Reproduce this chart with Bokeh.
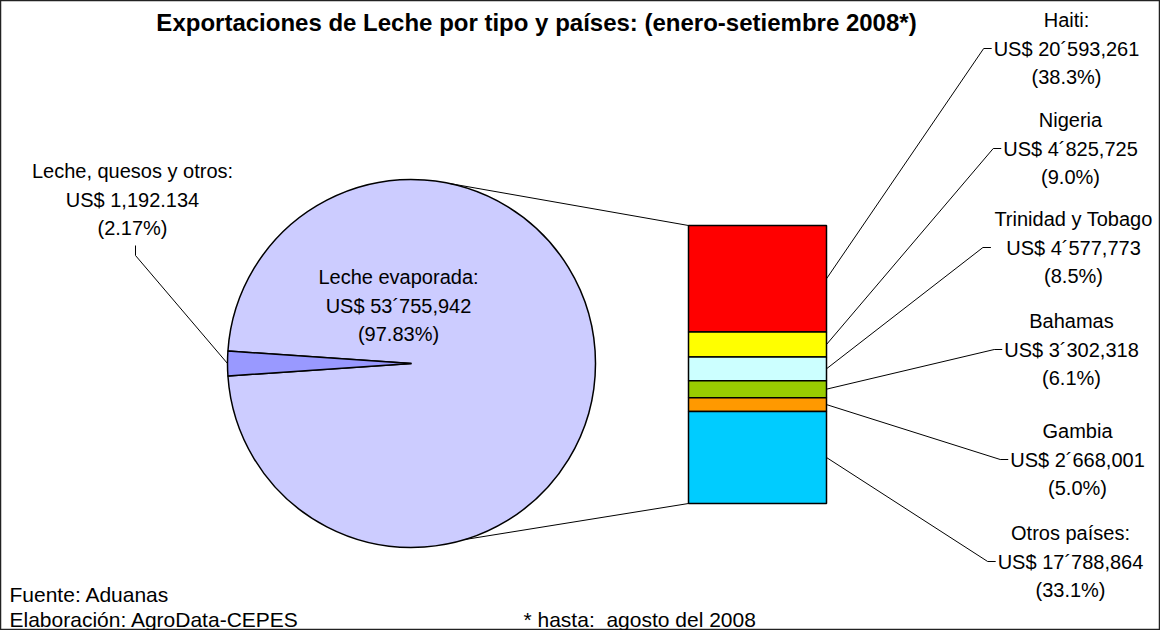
import math
from bokeh.plotting import figure
from bokeh.models import Range1d
from bokeh.core.properties import value
from bokeh.embed import file_html
from bokeh.resources import INLINE

# ---------------- data ----------------
pie_labels = ["Leche evaporada", "Leche, quesos y otros"]
pie_values = [53755942, 1192134]
pie_value_text = ["US$ 53\u00b4755,942", "US$ 1,192.134"]
pie_pct_text = ["(97.83%)", "(2.17%)"]

countries = ["Haiti:", "Nigeria", "Trinidad y Tobago", "Bahamas", "Gambia", "Otros pa\u00edses:"]
country_values = [20593261, 4825725, 4577773, 3302318, 2668001, 17788864]
country_value_text = ["US$ 20\u00b4593,261", "US$ 4\u00b4825,725", "US$ 4\u00b4577,773",
                      "US$ 3\u00b4302,318", "US$ 2\u00b4668,001", "US$ 17\u00b4788,864"]
country_pct_text = ["(38.3%)", "(9.0%)", "(8.5%)", "(6.1%)", "(5.0%)", "(33.1%)"]

title_text = "Exportaciones de Leche por tipo y pa\u00edses: (enero-setiembre 2008*)"
source_lines = ["Fuente: Aduanas", "Elaboraci\u00f3n: AgroData-CEPES"]
note_text = "* hasta:\u00a0 agosto del 2008"

# ---------------- layout / style ----------------
W, H = 1160, 630
FONT = "Liberation Sans"
FS = 20
LINE = 28.5
pie_colors = ["#CCCCFF", "#9999FF"]
bar_colors = ["#FF0000", "#FFFF00", "#CCFFFF", "#99CC00", "#FF9900", "#00CCFF"]

def X(px):
    return px - 8

def Y(py):
    return 638 - py

PCX, PCY, PR = X(419), Y(371), 184
BAR_L, BAR_R, BAR_T, BAR_B = X(696), X(834), Y(233), Y(511)
TOP_ATTACH_DEG, BOT_ATTACH_DEG = 78.0, -73.0
label_cx_px = [1074, 1078, 1081, 1079, 1085, 1078]
label_mid_py = [56, 156, 255, 357, 467, 569]

AW = {' ': 278, '$': 556, '%': 889, '(': 333, ')': 333, ',': 278, '.': 278, ':': 278,
      '\u00b4': 333, 'U': 722, 'S': 667, 'T': 611, 'H': 722, 'N': 722, 'B': 667,
      'G': 778, 'O': 778, 'a': 556, 'b': 556, 'd': 556, 'e': 556, 'g': 556, 'h': 556,
      'i': 222, 'm': 833, 'n': 556, 'o': 556, 'p': 556, 'r': 333, 's': 500, 't': 278,
      'y': 500, '\u00ed': 278}

def tw(s):
    return sum(AW.get(c, 556) for c in s) * FS / 1000.0

p = figure(width=W, height=H, x_range=Range1d(0, W), y_range=Range1d(0, H),
           x_axis_type=None, y_axis_type=None, toolbar_location=None,
           output_backend="svg", min_border=0)
p.grid.visible = False
p.outline_line_color = "#222222"
p.outline_line_width = 1.5
p.background_fill_color = "white"
p.border_fill_color = "white"

# ---------------- pie ----------------
total_pie = sum(pie_values)
small_frac = pie_values[1] / total_pie
half = math.pi * small_frac
mid = math.pi
starts = [mid + half, mid - half]
ends = [mid - half, mid + half]
p.wedge(x=[PCX, PCX], y=[PCY, PCY], radius=PR, start_angle=starts, end_angle=ends,
        fill_color=pie_colors, line_color="black", line_width=1.5, direction="anticlock")

# ---------------- stacked bar ----------------
tot = sum(country_values)
bar_h = BAR_T - BAR_B
tops, bottoms = [], []
cur = BAR_T
for v in country_values:
    h = v / tot * bar_h
    tops.append(cur)
    bottoms.append(cur - h)
    cur -= h
p.quad(left=[BAR_L] * 6, right=[BAR_R] * 6, top=tops, bottom=bottoms,
       fill_color=bar_colors, line_color="black", line_width=1.5)

ta = math.radians(TOP_ATTACH_DEG)
ba = math.radians(BOT_ATTACH_DEG)
p.segment(x0=[PCX + PR * math.cos(ta), PCX + PR * math.cos(ba)],
          y0=[PCY + PR * math.sin(ta), PCY + PR * math.sin(ba)],
          x1=[BAR_L, BAR_L], y1=[BAR_T, BAR_B], line_color="black", line_width=1)

# ---------------- right labels ----------------
tx, ty, tt = [], [], []
lx, ly = [], []
for i in range(6):
    cx = X(label_cx_px[i])
    my = Y(label_mid_py[i])
    lines = [countries[i], country_value_text[i], country_pct_text[i]]
    for j, s in enumerate(lines):
        tx.append(cx)
        ty.append(my + (1 - j) * LINE)
        tt.append(s)
    left = cx - max(tw(s) for s in lines) / 2.0
    ym = (tops[i] + bottoms[i]) / 2.0
    lx.append([BAR_R, left - 10, left - 2])
    ly.append([ym, my, my])
p.multi_line(xs=lx, ys=ly, line_color="black", line_width=1)

# ---------------- pie labels ----------------
icx, icy = X(406), Y(313)
for j, s in enumerate([pie_labels[0] + ":", pie_value_text[0], pie_pct_text[0]]):
    tx.append(icx)
    ty.append(icy + (1 - j) * LINE)
    tt.append(s)
ocx, ocy = X(140), Y(207)
small_lines = [pie_labels[1] + ":", pie_value_text[1], pie_pct_text[1]]
for j, s in enumerate(small_lines):
    tx.append(ocx)
    ty.append(ocy + (1 - j) * LINE)
    tt.append(s)
p.text(x=tx, y=ty, text=tt, text_font=value(FONT), text_font_size=value(f"{FS}px"),
       text_align="center", text_baseline="middle", text_color="black")

ex, ey = PCX + PR * math.cos(mid), PCY + PR * math.sin(mid)
p.line(x=[ex, X(143), X(143)], y=[ey, Y(263), Y(253)], line_color="black", line_width=1)

# ---------------- title & notes ----------------
p.text(x=[X(544)], y=[Y(30)], text=[title_text], text_font=value(FONT),
       text_font_size=value("24px"), text_font_style="bold", text_align="center",
       text_baseline="middle", text_color="black")
p.text(x=[X(17), X(17), X(531)], y=[Y(602), Y(627), Y(627)],
       text=[source_lines[0], source_lines[1], note_text], text_font=value(FONT),
       text_font_size=value("21px"), text_align="left", text_baseline="middle",
       text_color="black")

open("out.html", "w").write(file_html(p, INLINE))
